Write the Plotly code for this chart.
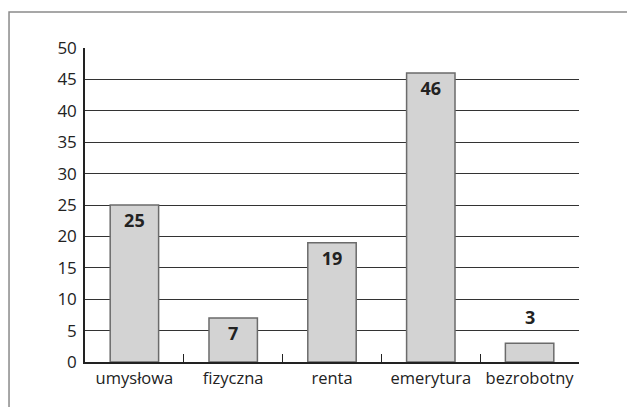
import plotly.graph_objects as go

categories = ["umysłowa", "fizyczna", "renta", "emerytura", "bezrobotny"]
values = [25, 7, 19, 46, 3]
y_ticks = [0, 5, 10, 15, 20, 25, 30, 35, 40, 45, 50]

# short bars get their label above the bar instead of inside
inside = [v >= 5 for v in values]
label_font = dict(family="Open Sans", size=18, color="#222222", weight="bold")

fig = go.Figure(go.Bar(
    x=categories, y=values,
    text=[str(v) if ok else "" for v, ok in zip(values, inside)],
    textposition="inside",
    insidetextanchor="end",
    textfont=label_font,
    marker=dict(color="#d3d3d3", line=dict(color="#6b6b6b", width=1.5)),
))
for c, v, ok in zip(categories, values, inside):
    if not ok:
        fig.add_annotation(x=c, y=v, text=str(v), showarrow=False,
                           yanchor="bottom", yshift=12, font=label_font)

# the page adds an 8px body margin, so the figure is 8px smaller than the window
fig.update_layout(
    width=627, height=399,
    margin=dict(l=77, r=56, t=40, b=45, autoexpand=False),
    paper_bgcolor="white", plot_bgcolor="white",
    bargap=0.51,
    showlegend=False,
    font=dict(family="Open Sans", size=17, color="#222222"),
    shapes=[dict(type="rect", xref="paper", yref="paper",
                 x0=-0.1538, y0=-0.3, x1=1.3, y1=1.1146,
                 line=dict(color="#8a8a8a", width=1.5), layer="below")],
)
fig.update_xaxes(
    showline=True, linecolor="#222222", linewidth=1.5,
    ticks="inside", tickson="boundaries", ticklen=8, tickcolor="#222222",
    tickwidth=1.2, showgrid=False, tickangle=0, automargin=False,
    tickfont=dict(size=16.5),
)
fig.update_yaxes(
    range=[0, 50], tickvals=y_ticks,
    showline=True, linecolor="#222222", linewidth=1.5,
    showgrid=True, gridcolor="#333333", gridwidth=1.2,
    ticks="", ticklabelstandoff=3, zeroline=False, automargin=False,
)

fig.write_html("out.html")
